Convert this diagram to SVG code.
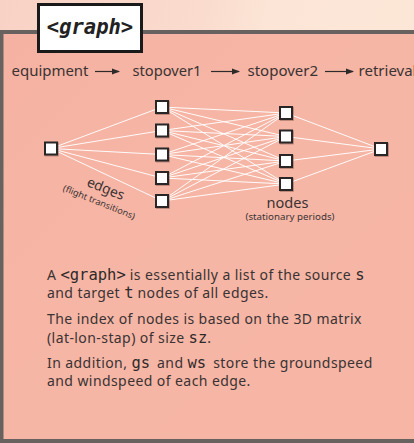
<svg xmlns="http://www.w3.org/2000/svg" width="414" height="443" viewBox="0 0 414 443">
<defs>
<linearGradient id="topbg" x1="0" y1="0" x2="1" y2="0.3">
<stop offset="0" stop-color="#f8d2c5"/>
<stop offset="0.45" stop-color="#fadbcd"/>
<stop offset="0.6" stop-color="#fce5d6"/>
<stop offset="1" stop-color="#fce7d7"/>
</linearGradient>
<linearGradient id="panelbg" x1="0" y1="0" x2="1" y2="1">
<stop offset="0" stop-color="#f5b2a2"/>
<stop offset="0.5" stop-color="#f6b6a6"/>
<stop offset="1" stop-color="#f6b5a5"/>
</linearGradient>
<marker id="arr" viewBox="0 0 8 8" refX="7" refY="4" markerWidth="8" markerHeight="8" markerUnits="userSpaceOnUse" orient="auto">
<path d="M0,1 L8,4 L0,7 Z" fill="#2e2a2a"/>
</marker>
<filter id="sh" x="-30%" y="-30%" width="160%" height="160%">
<feDropShadow dx="0.8" dy="0.8" stdDeviation="0.6" flood-color="#5a3a35" flood-opacity="0.45"/>
</filter>
</defs>
<style>
.lbl{font-family:"Noto Sans","Open Sans",sans-serif;fill:#3a3333}
.mono{font-family:"DejaVu Sans Mono","Liberation Mono",monospace;fill:#2e2a2a;font-size:15.5px;letter-spacing:0}
.desc{letter-spacing:0.42px}
.edge{stroke:#ffffff;stroke-width:1;opacity:0.95}
.node rect{fill:#ffffff;stroke:#2b2828;stroke-width:2;filter:url(#sh)}
.arrow{stroke:#2e2a2a;stroke-width:1.2;marker-end:url(#arr)}
</style>

<!-- background -->
<rect x="0" y="0" width="414" height="443" fill="url(#topbg)"/>
<rect x="0" y="30" width="414" height="413" fill="#676260"/>
<rect x="3.5" y="34" width="410.5" height="405" fill="url(#panelbg)"/>

<!-- title -->
<g id="title">
<rect x="38.5" y="4.5" width="103" height="47" fill="#ffffff" stroke="#1a1a1a" stroke-width="3"/>
<text x="90" y="34" text-anchor="middle" font-family="DejaVu Sans Mono, Liberation Mono, monospace" font-weight="bold" font-style="italic" font-size="20.5" fill="#222">&lt;graph&gt;</text>
</g>

<!-- stage header -->
<g id="stages">
<text class="lbl" x="11.5" y="76" font-size="13.5" textLength="77" lengthAdjust="spacingAndGlyphs">equipment</text>
<line class="arrow" x1="95" y1="71.5" x2="119" y2="71.5"/>
<text class="lbl" x="132.5" y="76" font-size="13.5" textLength="69" lengthAdjust="spacingAndGlyphs">stopover1</text>
<line class="arrow" x1="211" y1="71.5" x2="239" y2="71.5"/>
<text class="lbl" x="247.5" y="76" font-size="13.5" textLength="70.5" lengthAdjust="spacingAndGlyphs">stopover2</text>
<line class="arrow" x1="325" y1="71.5" x2="353" y2="71.5"/>
<text class="lbl" x="358.5" y="76" font-size="13.5" textLength="58" lengthAdjust="spacingAndGlyphs">retrieval</text>
</g>

<!-- connectors -->
<g id="edges">
<line class="edge" x1="51" y1="148.5" x2="162" y2="107"/>
<line class="edge" x1="51" y1="148.5" x2="162" y2="130.5"/>
<line class="edge" x1="51" y1="148.5" x2="162" y2="154.5"/>
<line class="edge" x1="51" y1="148.5" x2="162" y2="178"/>
<line class="edge" x1="51" y1="148.5" x2="162" y2="201"/>

<line class="edge" x1="162" y1="107" x2="286" y2="113"/>
<line class="edge" x1="162" y1="107" x2="286" y2="136.5"/>
<line class="edge" x1="162" y1="107" x2="286" y2="161"/>
<line class="edge" x1="162" y1="107" x2="286" y2="184"/>
<line class="edge" x1="162" y1="130.5" x2="286" y2="113"/>
<line class="edge" x1="162" y1="130.5" x2="286" y2="136.5"/>
<line class="edge" x1="162" y1="130.5" x2="286" y2="161"/>
<line class="edge" x1="162" y1="130.5" x2="286" y2="184"/>
<line class="edge" x1="162" y1="154.5" x2="286" y2="113"/>
<line class="edge" x1="162" y1="154.5" x2="286" y2="136.5"/>
<line class="edge" x1="162" y1="154.5" x2="286" y2="161"/>
<line class="edge" x1="162" y1="154.5" x2="286" y2="184"/>
<line class="edge" x1="162" y1="178" x2="286" y2="113"/>
<line class="edge" x1="162" y1="178" x2="286" y2="136.5"/>
<line class="edge" x1="162" y1="178" x2="286" y2="161"/>
<line class="edge" x1="162" y1="178" x2="286" y2="184"/>
<line class="edge" x1="162" y1="201" x2="286" y2="113"/>
<line class="edge" x1="162" y1="201" x2="286" y2="136.5"/>
<line class="edge" x1="162" y1="201" x2="286" y2="161"/>
<line class="edge" x1="162" y1="201" x2="286" y2="184"/>

<line class="edge" x1="286" y1="113" x2="381" y2="149"/>
<line class="edge" x1="286" y1="136.5" x2="381" y2="149"/>
<line class="edge" x1="286" y1="161" x2="381" y2="149"/>
<line class="edge" x1="286" y1="184" x2="381" y2="149"/>
</g>

<!-- nodes -->
<g id="n-equipment" class="node"><rect x="45" y="142.5" width="12" height="12"/></g>
<g id="n-s1-1" class="node"><rect x="156" y="101" width="12" height="12"/></g>
<g id="n-s1-2" class="node"><rect x="156" y="124.5" width="12" height="12"/></g>
<g id="n-s1-3" class="node"><rect x="156" y="148.5" width="12" height="12"/></g>
<g id="n-s1-4" class="node"><rect x="156" y="172" width="12" height="12"/></g>
<g id="n-s1-5" class="node"><rect x="156" y="195" width="12" height="12"/></g>
<g id="n-s2-1" class="node"><rect x="280" y="107" width="12" height="12"/></g>
<g id="n-s2-2" class="node"><rect x="280" y="130.5" width="12" height="12"/></g>
<g id="n-s2-3" class="node"><rect x="280" y="155" width="12" height="12"/></g>
<g id="n-s2-4" class="node"><rect x="280" y="178" width="12" height="12"/></g>
<g id="n-retrieval" class="node"><rect x="375" y="143" width="12" height="12"/></g>

<!-- labels -->
<g id="edges-label">
<text class="lbl" x="0" y="0" font-size="14" text-anchor="middle" textLength="39" lengthAdjust="spacingAndGlyphs" transform="translate(104,193) rotate(22)">edges</text>
<text class="lbl" x="0" y="0" font-size="8.8" text-anchor="middle" textLength="77" lengthAdjust="spacingAndGlyphs" transform="translate(98,205) rotate(22)">(flight transitions)</text>
</g>
<g id="nodes-label">
<text class="lbl" x="287.5" y="208" font-size="15" text-anchor="middle" textLength="42" lengthAdjust="spacingAndGlyphs">nodes</text>
<text class="lbl" x="290" y="219.5" font-size="8.8" text-anchor="middle" textLength="89" lengthAdjust="spacingAndGlyphs">(stationary periods)</text>
</g>

<!-- description -->
<g id="description" font-size="14">
<text class="lbl desc" x="47" y="279.5">A <tspan class="mono">&lt;graph&gt;</tspan> is essentially a list of the source <tspan class="mono">s</tspan></text>
<text class="lbl desc" x="47" y="298">and target <tspan class="mono">t</tspan> nodes of all edges.</text>
<text class="lbl desc" x="47" y="324">The index of nodes is based on the 3D matrix</text>
<text class="lbl desc" x="47" y="342.5">(lat-lon-stap) of size <tspan class="mono">sz</tspan>.</text>
<text class="lbl desc" x="47" y="367.5">In addition, <tspan class="mono">gs</tspan><tspan dx="7">and </tspan><tspan class="mono">ws</tspan><tspan dx="7">store the groundspeed</tspan></text>
<text class="lbl desc" x="47" y="386">and windspeed of each edge.</text>
</g>
</svg>
